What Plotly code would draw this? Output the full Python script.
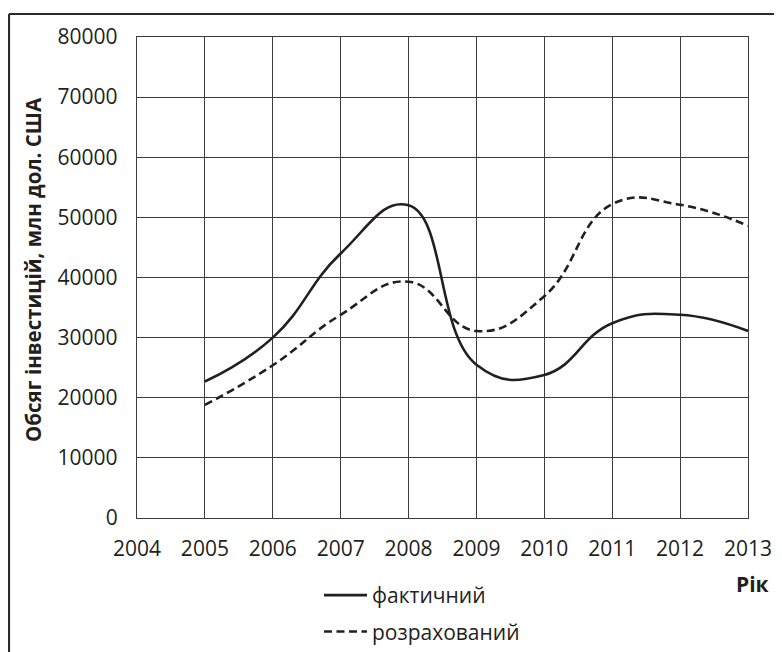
import plotly.graph_objects as go

years = [2005, 2006, 2007, 2008, 2009, 2010, 2011, 2012, 2013]
actual = [22700, 30000, 44000, 52000, 25500, 23800, 32400, 33800, 31100]
estimated = [18800, 25400, 33800, 39300, 31100, 36900, 52200, 52100, 48600]
x_ticks = list(range(2004, 2014))
y_ticks = list(range(0, 80001, 10000))

INK = "#231f20"
GRID = "#3c3c3c"
FONT = "Open Sans"

# page offset (body margin) compensation: figure coords = screen coords - 8
OFF = 8
W, H = 782, 652
L, T = 137 - OFF, 37 - OFF
pw, ph = 611, 481
R, B = W - L - pw, H - T - ph

def px(xs):
    return (xs - OFF - L) / pw

def py(ys):
    return (T + ph - (ys - OFF)) / ph

fig = go.Figure()
fig.add_trace(go.Scatter(
    x=years, y=actual, mode="lines", name="фактичний",
    line=dict(color=INK, width=2.6, shape="spline", smoothing=1.3),
    legendgroup="a"))
fig.add_trace(go.Scatter(
    x=years, y=estimated, mode="lines", name="розрахований",
    line=dict(color=INK, width=2.6, shape="spline", smoothing=1.3, dash="8px,4.5px"),
    legendgroup="b"))

fig.update_layout(
    width=W, height=H,
    margin=dict(l=L, r=R, t=T, b=B, autoexpand=False),
    paper_bgcolor="white", plot_bgcolor="white",
    font=dict(family=FONT, size=21, color=INK),
    showlegend=True,
    legend=dict(x=px(319), y=py(575), xanchor="left", yanchor="top",
                bgcolor="rgba(0,0,0,0)", font=dict(size=21, color=INK),
                traceorder="grouped", tracegroupgap=6, itemwidth=43),
    xaxis=dict(range=[2004, 2013], tickvals=x_ticks, ticktext=[str(v) for v in x_ticks],
               showgrid=True, gridcolor=GRID, gridwidth=1.3,
               showline=True, mirror=True, linecolor=GRID, linewidth=1.3,
               zeroline=False, ticks="", ticklabelstandoff=12,
               tickfont=dict(size=21, color=INK), automargin=False),
    yaxis=dict(range=[0, 80000], tickvals=y_ticks, ticktext=[str(v) for v in y_ticks],
               showgrid=True, gridcolor=GRID, gridwidth=1.3,
               showline=True, mirror=True, linecolor=GRID, linewidth=1.3,
               zeroline=False, ticks="", ticklabelstandoff=14,
               tickfont=dict(size=21, color=INK), automargin=False),
    annotations=[
        dict(text="<b>Обсяг інвестицій, млн дол. США</b>", textangle=-90,
             xref="paper", yref="paper", x=px(33), y=py(270),
             xanchor="center", yanchor="middle", showarrow=False,
             font=dict(size=20.5, color=INK, family=FONT)),
        dict(text="<b>Рік</b>", xref="paper", yref="paper", x=px(752), y=py(584),
             xanchor="center", yanchor="middle", showarrow=False,
             font=dict(size=21, color=INK, family=FONT)),
    ],
    shapes=[
        dict(type="line", xref="paper", yref="paper",
             x0=px(9), x1=px(800), y0=py(14), y1=py(14),
             line=dict(color="#2a2a2a", width=2.2)),
        dict(type="line", xref="paper", yref="paper",
             x0=px(9), x1=px(9), y0=py(14), y1=py(670),
             line=dict(color="#2a2a2a", width=2.2)),
    ],
)

fig.write_html("out.html")
